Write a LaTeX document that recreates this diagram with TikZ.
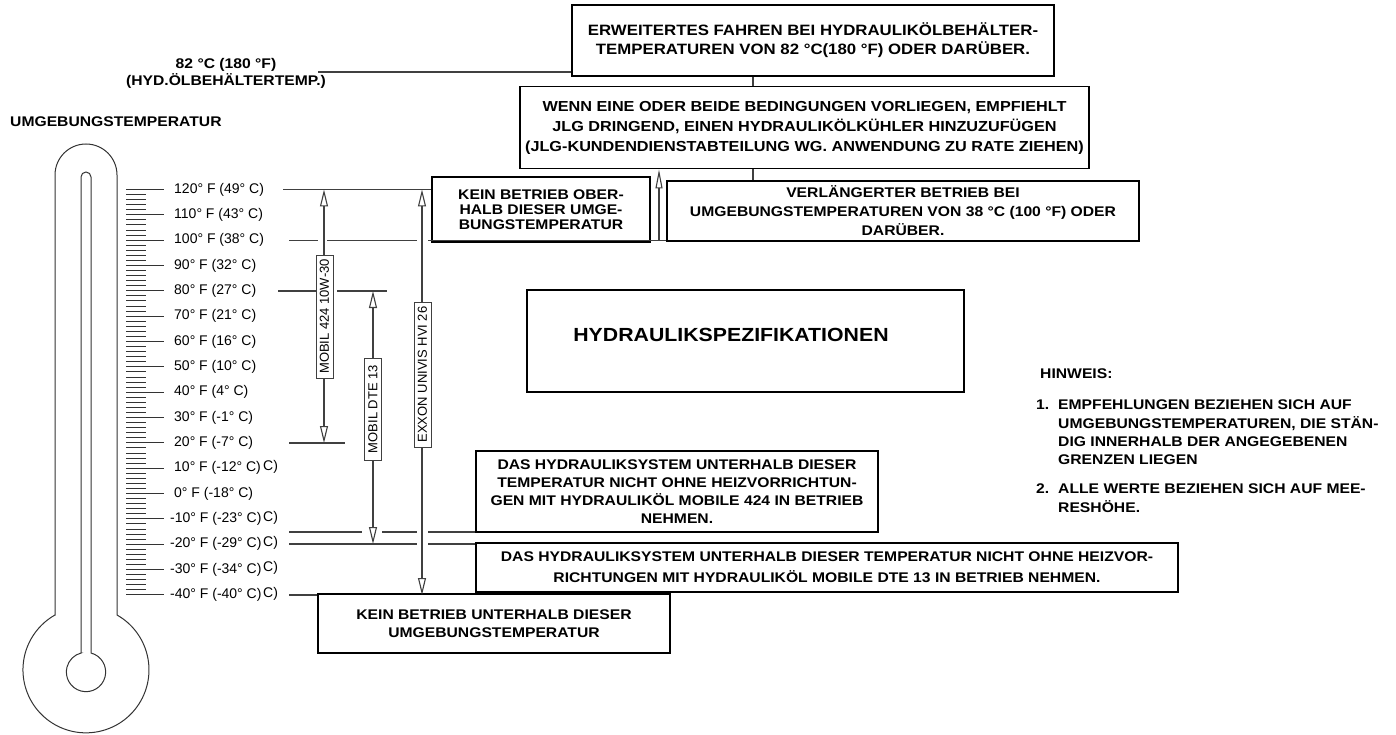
\documentclass[tikz,border=0pt]{standalone}
\usepackage{fontspec}
\setmainfont{Liberation Sans}
\newfontfamily\wfont[FakeStretch=1.12]{Liberation Sans}
\usetikzlibrary{arrows.meta}
\definecolor{lg}{HTML}{404040}
\definecolor{tg}{HTML}{333333}
\newcommand\bxf[1]{\wfont\bfseries\fontsize{14}{#1}\selectfont}
\newcommand\bxg[2]{\wfont\bfseries\fontsize{#1}{#2}\selectfont}
\begin{document}
\begin{tikzpicture}[x=1pt,y=1pt,
  ln/.style={draw=lg, line width=1.1pt},
  th/.style={draw=tg, line width=1pt},
  tk/.style={draw=tg, line width=1pt},
  arr/.style={ln, {Triangle[open,length=17pt,width=8pt]}-{Triangle[open,length=17pt,width=8pt]}},
  arrup/.style={ln, -{Triangle[open,length=19pt,width=7pt]}},
  bx/.style={draw=black, line width=1.9pt, fill=white, align=center, inner sep=0pt},
  rl/.style={draw=lg, line width=0.9pt, fill=white, rotate=90, minimum height=17pt, inner sep=0pt, font=\fontsize{13}{13}\selectfont},
  lab/.style={inner sep=0pt, font=\fontsize{14}{14}\selectfont},
  note/.style={inner sep=0pt, align=left}]
\useasboundingbox (0,0) rectangle (1396,-735);

% thermometer
\draw[th] (55,-615) -- (55,-175) arc[start angle=180,end angle=0,radius=31] -- (117,-615)
  arc[start angle=60.5,end angle=-240.5,radius=63] -- cycle;
\draw[th] (81,-653) -- (81,-177) arc[start angle=180,end angle=0,radius=5] -- (91,-653)
  arc[start angle=75.3,end angle=-255.3,radius=19.65] -- cycle;

% ticks
\foreach \i in {0,...,16} \draw[tk] (126,{-189.5-25.34*\i}) -- (164,{-189.5-25.34*\i});
\foreach \i in {0,...,15} \foreach \j in {1,...,4}
  \draw[tk] (126,{-189.5-25.34*\i-5.068*\j}) -- (146,{-189.5-25.34*\i-5.068*\j});

% scale labels
\foreach \t/\dx [count=\i from 0] in {120° F (49° C)/0, 110° F (43° C)/0, 100° F (38° C)/0,
  90° F (32° C)/0, 80° F (27° C)/0, 70° F (21° C)/0, 60° F (16° C)/0, 50° F (10° C)/0,
  40° F (4° C)/0, 30° F (-1° C)/0, 20° F (-7° C)/0, 10° F (-12° C)/0, 0° F (-18° C)/0,
  -10° F (-23° C)/-4, -20° F (-29° C)/-4, -30° F (-34° C)/-4, -40° F (-40° C)/-4}
  \node[lab, anchor=west] (lab\i) at ({174+\dx},{-189.5-25.34*\i}) {\t};
\foreach \i in {11,13,14,15,16}
  \node[lab, anchor=west] (cx\i) at (263,{-188-25.34*\i}) {C)};

% top-left labels
\node[align=center, inner sep=0pt, font=\bxf{17}] (t82) at (226,-73.5) {82 °C (180 °F)\\(HYD.ÖLBEHÄLTERTEMP.)};
\node[anchor=west, inner sep=0pt, font=\bxf{15}] (umg) at (10,-122) {UMGEBUNGSTEMPERATUR};

% boxes
\node[bx, minimum width=482pt, minimum height=71pt, font=\bxg{15}{19}] (topbox) at (813,-40.5)
  {ERWEITERTES FAHREN BEI HYDRAULIKÖLBEHÄLTER-\\TEMPERATUREN VON 82 °C(180 °F) ODER DARÜBER.};
\node[bx, minimum width=569pt, minimum height=82pt, font=\bxg{14.5}{20}] (wenn) at (804.5,-127.5)
  {WENN EINE ODER BEIDE BEDINGUNGEN VORLIEGEN, EMPFIEHLT\\JLG DRINGEND, EINEN HYDRAULIKÖLKÜHLER HINZUZUFÜGEN\\(JLG-KUNDENDIENSTABTEILUNG WG. ANWENDUNG ZU RATE ZIEHEN)};
\node[bx, minimum width=218pt, minimum height=65pt, font=\bxf{15}] (kein1) at (541,-209.5)
  {KEIN BETRIEB OBER-\\HALB DIESER UMGE-\\BUNGSTEMPERATUR};
\node[bx, minimum width=472pt, minimum height=60pt, font=\bxf{19}] (verl) at (903,-211)
  {VERLÄNGERTER BETRIEB BEI\\UMGEBUNGSTEMPERATUREN VON 38 °C (100 °F) ODER\\DARÜBER.};
\node[bx, minimum width=437pt, minimum height=102pt] (hyd) at (745.5,-341) {};
\node[inner sep=0pt, font=\wfont\bfseries\fontsize{19}{19}\selectfont] (hydt) at (731,-335) {HYDRAULIKSPEZIFIKATIONEN};
\node[bx, minimum width=402pt, minimum height=81pt, font=\bxf{18}] (das1) at (677,-491.5)
  {DAS HYDRAULIKSYSTEM UNTERHALB DIESER\\TEMPERATUR NICHT OHNE HEIZVORRICHTUN-\\GEN MIT HYDRAULIKÖL MOBILE 424 IN BETRIEB\\NEHMEN.};
\node[bx, minimum width=702pt, minimum height=49pt, font=\bxf{21}] (das2) at (827,-567.5)
  {DAS HYDRAULIKSYSTEM UNTERHALB DIESER TEMPERATUR NICHT OHNE HEIZVOR-\\RICHTUNGEN MIT HYDRAULIKÖL MOBILE DTE 13 IN BETRIEB NEHMEN.};
\node[bx, minimum width=352pt, minimum height=59pt, font=\bxf{18}] (kein2) at (494,-623.5)
  {KEIN BETRIEB UNTERHALB DIESER\\UMGEBUNGSTEMPERATUR};

% notes
\node[note, anchor=west, font=\bxf{17}] (hinw) at (1040,-374) {HINWEIS:};
\node[note, anchor=west, font=\bxf{17}] (n1num) at (1036,-405) {1.};
\node[note, anchor=north west, font=\bxf{18.3}] (n1) at (1058,-400)
  {EMPFEHLUNGEN BEZIEHEN SICH AUF\\UMGEBUNGSTEMPERATUREN, DIE STÄN-\\DIG INNERHALB DER ANGEGEBENEN\\GRENZEN LIEGEN};
\node[note, anchor=west, font=\bxf{17}] (n2num) at (1036,-489) {2.};
\node[note, anchor=north west, font=\bxf{18.3}] (n2) at (1058,-484)
  {ALLE WERTE BEZIEHEN SICH AUF MEE-\\RESHÖHE.};

% connectors between top boxes
\coordinate (c82) at (318,-72);
\draw[ln] (c82) -- (c82 -| topbox.west);
\coordinate (cv) at (753,-100);
\draw[ln] (cv |- topbox.south) -- (cv |- wenn.north);
\draw[ln] (cv |- wenn.south) -- (cv |- verl.north);

% temperature lines
\coordinate (h120) at (283,-189.5);
\draw[ln] (h120) -- (h120 -| kein1.west);
\coordinate (h100a) at (289,-240.2); \coordinate (h100b) at (318,-240.2);
\coordinate (h100c) at (327,-240.2); \coordinate (h100d) at (417,-240.2);
\coordinate (h100e) at (428,-240.2);
\draw[ln] (h100a) -- (h100b) (h100c) -- (h100d) (h100e) -- (h100e -| verl.west);
\coordinate (h80a) at (278,-291); \coordinate (h80b) at (317,-291);
\coordinate (h80c) at (337,-291); \coordinate (h80d) at (387,-291);
\draw[ln] (h80a) -- (h80b) (h80c) -- (h80d);
\coordinate (h20a) at (289,-443); \coordinate (h20b) at (345,-443);
\draw[ln] (h20a) -- (h20b);
\coordinate (hm10a) at (289,-532); \coordinate (hm10b) at (362,-532);
\coordinate (hm10c) at (382,-532); \coordinate (hm10d) at (417,-532);
\coordinate (hm10e) at (428,-532);
\draw[ln] (hm10a) -- (hm10b) (hm10c) -- (hm10d) (hm10e) -- (hm10e -| das1.west);
\coordinate (hm20a) at (289,-544); \coordinate (hm20b) at (417,-544);
\coordinate (hm20c) at (428,-544);
\draw[ln] (hm20a) -- (hm20b) (hm20c) -- (hm20c -| das2.west);
\coordinate (hm40) at (289,-595);
\draw[ln] (hm40) -- (hm40 -| kein2.west);

% range arrows
\coordinate (a1t) at (324,-189.5); \coordinate (a1b) at (324,-443);
\coordinate (a2t) at (373,-291);   \coordinate (a2b) at (373,-544);
\coordinate (a3t) at (422,-189.5); \coordinate (a3b) at (422,-595);
\draw[arr] (a1t) -- (a1b);
\draw[arr] (a2t) -- (a2b);
\draw[arr] (a3t) -- (a3b);
\coordinate (a4) at (659,-240.2);
\draw[arrup] (a4) -- (a4 |- wenn.south);

% oil labels
\node[rl, minimum width=123pt] (m424) at (324.5,-316.5) {MOBIL 424 10W-30};
\node[rl, minimum width=102pt] (m13) at (373,-409) {MOBIL DTE 13};
\node[rl, minimum width=145pt] (exx) at (422.5,-374.5) {EXXON UNIVIS HVI 26};
\end{tikzpicture}
\end{document}
